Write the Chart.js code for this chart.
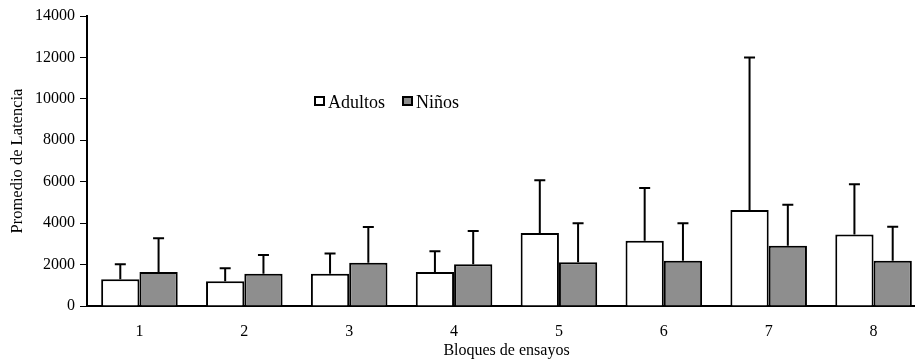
<!DOCTYPE html>
<html>
<head>
<meta charset="utf-8">
<script src="https://cdn.jsdelivr.net/npm/chart.js@4/dist/chart.umd.min.js"></script>
<style>
  html, body { margin: 0; padding: 0; background: #fff; overflow: hidden; }
  #wrap { width: 915px; height: 364px; overflow: hidden; }
  #wrap div { width: 926px; height: 364px; }
</style>
</head>
<body>
<div id="wrap"><div><canvas id="grafico"></canvas></div></div>
<script>
// bloques de ensayos
const bloques = ['1', '2', '3', '4', '5', '6', '7', '8'];

// promedios (barras)
const adultos = [1290, 1190, 1560, 1640, 3530, 3150, 4630, 3450];
const ninos = [1640, 1560, 2090, 2010, 2110, 2190, 2910, 2190];

// extremo superior de la barra de error
const adultosErr = [2010, 1820, 2540, 2640, 6070, 5700, 12000, 5880];
const ninosErr = [3270, 2460, 3810, 3620, 4000, 4000, 4890, 3820];

const ticksY = [0, 2000, 4000, 6000, 8000, 10000, 12000, 14000];

const fuente = 'Liberation Serif, Times New Roman, serif';

// barras de error, solo hacia arriba
const erroresPlugin = {
    id: 'errores',
    afterDatasetsDraw(chart) {
        const ctx = chart.ctx;
        const y = chart.scales.y;
        const tops = [adultosErr, ninosErr];
        ctx.save();
        ctx.strokeStyle = '#000';
        ctx.lineWidth = 2;
        chart.data.datasets.forEach((ds, i) => {
            const meta = chart.getDatasetMeta(i);
            meta.data.forEach((bar, j) => {
                const yTop = y.getPixelForValue(tops[i][j]);
                const yBar = y.getPixelForValue(ds.data[j]);
                ctx.beginPath();
                ctx.moveTo(bar.x, yBar);
                ctx.lineTo(bar.x, yTop);
                ctx.moveTo(bar.x - 5.5, yTop);
                ctx.lineTo(bar.x + 5.5, yTop);
                ctx.stroke();
            });
        });
        ctx.restore();
    }
};

// leyenda dentro del area del grafico
const leyendaPlugin = {
    id: 'leyenda',
    afterDraw(chart) {
        const ctx = chart.ctx;
        const pos = [315, 403];
        ctx.save();
        ctx.font = '18px ' + fuente;
        ctx.textBaseline = 'middle';
        chart.data.datasets.forEach((ds, i) => {
            const x = pos[i];
            ctx.fillStyle = ds.backgroundColor;
            ctx.fillRect(x, 97, 9, 8);
            ctx.strokeStyle = '#000';
            ctx.lineWidth = 2;
            ctx.strokeRect(x, 97, 9, 8);
            ctx.fillStyle = '#000';
            ctx.fillText(ds.label, x + 13, 103);
        });
        ctx.restore();
    }
};

new Chart(document.getElementById('grafico'), {
    type: 'bar',
    data: {
        labels: bloques,
        datasets: [
            { label: 'Adultos', data: adultos, backgroundColor: '#ffffff', borderColor: '#000', borderWidth: 2 },
            { label: 'Niños', data: ninos, backgroundColor: '#8e8e8e', borderColor: '#000', borderWidth: 2 }
        ]
    },
    options: {
        responsive: true,
        maintainAspectRatio: false,
        animation: false,
        layout: { padding: { top: 16, left: 0, right: 0, bottom: 0 } },
        datasets: { bar: { categoryPercentage: 0.73, barPercentage: 1 } },
        plugins: { legend: { display: false }, tooltip: { enabled: false } },
        scales: {
            x: {
                grid: { display: false },
                border: { color: '#000', width: 2 },
                ticks: { color: '#000', font: { family: fuente, size: 16 }, padding: 8 },
                title: { display: true, text: 'Bloques de ensayos', color: '#000', font: { family: fuente, size: 16 }, padding: { top: 6 } },
                afterFit(s) { s.height = 58; }
            },
            y: {
                min: 0,
                max: 14000,
                afterBuildTicks(s) { s.ticks = ticksY.map(v => ({ value: v })); },
                grid: { drawOnChartArea: false, drawTicks: true, tickLength: 7, color: '#000' },
                border: { color: '#000', width: 2 },
                ticks: { color: '#000', font: { family: fuente, size: 16 }, padding: 5, callback: v => String(v) },
                title: { display: true, text: 'Promedio de Latencia', color: '#000', font: { family: fuente, size: 16.5 }, padding: { top: 8, bottom: 0 } },
                afterFit(s) { s.width = 87; }
            }
        }
    },
    plugins: [erroresPlugin, leyendaPlugin]
});
</script>
</body>
</html>
